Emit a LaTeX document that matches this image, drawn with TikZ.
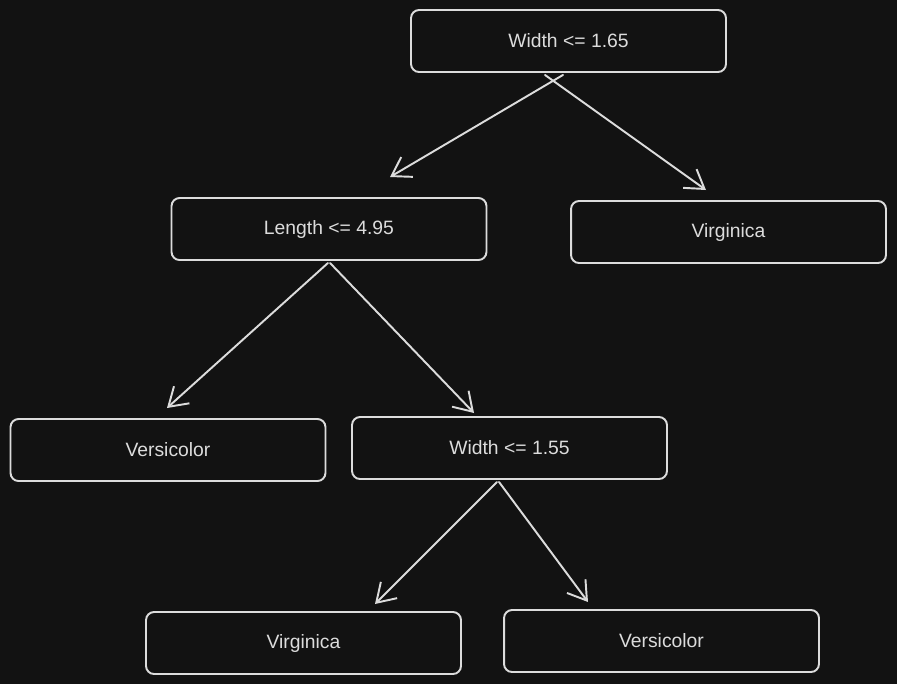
\documentclass[tikz,border=0pt]{standalone}
\usepackage{fontspec}
\setmainfont{Liberation Sans}
\usetikzlibrary{arrows.meta}
\definecolor{bgdark}{HTML}{121212}
\definecolor{chalk}{HTML}{DCDCDC}
\begin{document}
\begin{tikzpicture}[x=0.02cm,y=-0.02cm,
	box/.style={rectangle, rounded corners=0.16cm, draw=chalk, line width=1.1pt,
		minimum width=6.3cm, minimum height=1.24cm, text=chalk,
		font=\fontsize{11}{13}\selectfont},
	edge/.style={draw=chalk, line width=1.1pt, line cap=round,
		-{Straight Barb[length=3.6mm,width=4.6mm,line width=1.1pt]}}]
	\fill[bgdark] (0,0) rectangle (897,684);

	\draw (568.5,41) node[box] (root) {Width <= 1.65};

	\draw (329,229) node[box] (len) {Length <= 4.95};
	\draw (728.5,232) node[box] (virtop) {Virginica};

	\draw (168,450) node[box] (verleft) {Versicolor};
	\draw (509.5,448) node[box] (wid) {Width <= 1.55};

	\draw (303.5,643) node[box] (virbot) {Virginica};
	\draw (661.5,641) node[box] (verbot) {Versicolor};

	%Free ends of the arrows
	\coordinate (tlen) at (390,177);
	\coordinate (tvir) at (706,190);
	\coordinate (tverl) at (167,408);
	\coordinate (twid) at (474,413);
	\coordinate (tvirb) at (375,604);
	\coordinate (tverb) at (588,602);

	%Arrows out of the splits
	\draw[edge] ([xshift=-0.11cm,yshift=-0.04cm]root.south) -- (tlen);
	\draw[edge] ([xshift=-0.47cm,yshift=-0.04cm]root.south) -- (tvir);
	\draw[edge] ([xshift=-0.02cm,yshift=-0.04cm]len.south) -- (tverl);
	\draw[edge] ([xshift=0.02cm,yshift=-0.04cm]len.south) -- (twid);
	\draw[edge] ([xshift=-0.25cm,yshift=-0.04cm]wid.south) -- (tvirb);
	\draw[edge] ([xshift=-0.21cm,yshift=-0.04cm]wid.south) -- (tverb);
\end{tikzpicture}
\end{document}
